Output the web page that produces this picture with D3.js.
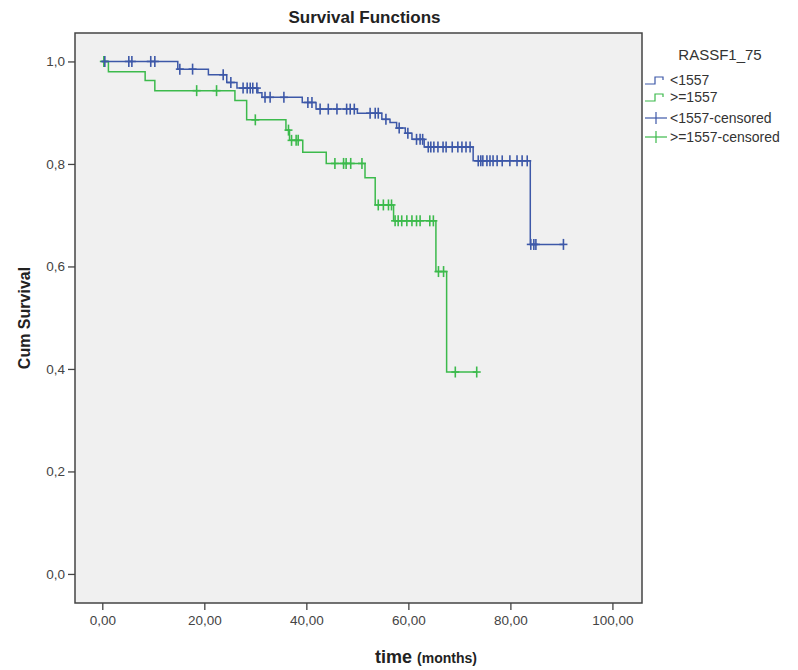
<!DOCTYPE html>
<html>
<head>
<meta charset="utf-8">
<script src="https://cdn.jsdelivr.net/npm/d3@7"></script>
<style>
  body { margin: 0; background: #fff; }
  text { font-family: Arial, "Liberation Sans", sans-serif; }
</style>
</head>
<body>
<div id="chart"></div>
<script>
// Kaplan-Meier data
// <1557 group: event times and survival after each drop
var lowEventTimes = [14.8, 20.8, 24.4, 26.4, 30.5, 31.3, 39.2, 41.9, 50.0, 54.8, 56.4, 57.7, 59.4, 60.7, 63.1, 72.7, 83.9];
var lowSurvival = [0.985, 0.974, 0.959, 0.948, 0.939, 0.930, 0.920, 0.907, 0.899, 0.887, 0.881, 0.870, 0.860, 0.848, 0.833, 0.806, 0.643];
var lowCensored = [0.5, 5.2, 5.8, 9.5, 10.3, 15.2, 17.7, 23.7, 25.2, 27.6, 28.4, 29.0, 29.5, 30.3, 31.9, 32.9,
  35.6, 40.3, 41.1, 42.7, 44.3, 46.0, 47.9, 48.6, 49.4, 52.5, 53.5, 54.1, 55.6, 58.2, 59.9, 61.6, 62.3, 62.8,
  63.9, 64.4, 65.0, 65.8, 66.8, 67.4, 68.6, 69.7, 70.5, 71.3, 72.1, 73.7, 74.2, 74.6, 75.4, 76.0, 76.6, 77.4,
  78.4, 79.9, 81.3, 82.3, 83.3, 84.0, 84.6, 85.0, 90.4];

// >=1557 group
var highEventTimes = [1.2, 8.4, 10.3, 26.0, 28.3, 36.0, 36.7, 39.3, 43.9, 51.5, 53.5, 57.1, 65.4, 67.5];
var highSurvival = [0.980, 0.963, 0.943, 0.924, 0.886, 0.866, 0.846, 0.823, 0.801, 0.773, 0.720, 0.689, 0.590, 0.394];
var highCensored = [0.3, 18.5, 22.4, 30.0, 36.5, 37.1, 38.0, 38.4, 45.6, 47.3, 47.8, 48.7, 50.9, 54.1, 55.1, 56.1,
  56.7, 57.4, 58.0, 58.7, 59.7, 60.7, 61.6, 62.3, 64.2, 64.9, 65.9, 66.9, 69.2, 73.4];

var xTicks = [0, 20, 40, 60, 80, 100];
var yTicks = [0, 0.2, 0.4, 0.6, 0.8, 1.0];
var legendLabels = ["<1557", ">=1557", "<1557-censored", ">=1557-censored"];

var blue = "#3d58a8";
var green = "#3cba4c";

var svgWidth = 798, svgHeight = 670;
var margin = { top: 33, right: 156, bottom: 67, left: 75 };
var width = svgWidth - margin.left - margin.right;
var height = svgHeight - margin.top - margin.bottom;

var svg = d3.select("#chart").append("svg")
  .attr("width", svgWidth)
  .attr("height", svgHeight);

var chartGroup = svg.append("g")
  .attr("transform", `translate(${margin.left}, ${margin.top})`);

// scales
var xScale = d3.scaleLinear().domain([-5.35, 105.8]).range([0, width]);
var yScale = d3.scaleLinear().domain([-0.0567, 1.0555]).range([height, 0]);

// plot background
chartGroup.append("rect")
  .attr("width", width)
  .attr("height", height)
  .attr("fill", "#f0f0f0");

// axes
var fmtY = d => d3.format(".1f")(d).replace(".", ",");
var fmtX = d => d3.format(".2f")(d).replace(".", ",");

var bottomAxis = d3.axisBottom(xScale).tickValues(xTicks).tickFormat(fmtX).tickSize(7).tickPadding(5);
var leftAxis = d3.axisLeft(yScale).tickValues(yTicks).tickFormat(fmtY).tickSize(7).tickPadding(3);

var xAxisG = chartGroup.append("g")
  .attr("transform", `translate(0, ${height})`)
  .call(bottomAxis);
var yAxisG = chartGroup.append("g").call(leftAxis);

[xAxisG, yAxisG].forEach(function (g) {
  g.select(".domain").remove();
  g.selectAll(".tick line").attr("stroke", "#444").attr("stroke-width", 1.3);
  g.selectAll(".tick text")
    .attr("fill", "#444")
    .style("font-size", "13.5px")
    .style("font-family", "Arial, 'Liberation Sans', sans-serif");
});

// step path builder
function stepPoints(times, surv, censored) {
  var pts = [[0, 1]];
  var s = 1;
  times.forEach(function (t, i) {
    pts.push([t, s]);
    s = surv[i];
    pts.push([t, s]);
  });
  var last = d3.max(censored.concat(times));
  pts.push([last, s]);
  return pts;
}

function survAt(times, surv, t) {
  var s = 1;
  times.forEach(function (et, i) { if (et <= t) s = surv[i]; });
  return s;
}

var line = d3.line().x(d => xScale(d[0])).y(d => yScale(d[1]));

var groups = [
  { times: lowEventTimes, surv: lowSurvival, cens: lowCensored, color: blue },
  { times: highEventTimes, surv: highSurvival, cens: highCensored, color: green }
];

// draw green first so blue sits on top like the original
groups.slice().reverse().forEach(function (g) {
  chartGroup.append("path")
    .attr("d", line(stepPoints(g.times, g.surv, g.cens)))
    .attr("fill", "none")
    .attr("stroke", g.color)
    .attr("stroke-width", 1.5);

  var marks = chartGroup.append("g");
  g.cens.forEach(function (t) {
    var cx = xScale(t), cy = yScale(survAt(g.times, g.surv, t));
    marks.append("line")
      .attr("x1", cx).attr("x2", cx)
      .attr("y1", cy - 5.5).attr("y2", cy + 5.5)
      .attr("stroke", g.color).attr("stroke-width", 1.6);
    marks.append("line")
      .attr("x1", cx - 4).attr("x2", cx + 4)
      .attr("y1", cy).attr("y2", cy)
      .attr("stroke", g.color).attr("stroke-width", 1.6);
  });
});

// frame
chartGroup.append("rect")
  .attr("width", width)
  .attr("height", height)
  .attr("fill", "none")
  .attr("stroke", "#444")
  .attr("stroke-width", 1.5);

// title
svg.append("text")
  .attr("x", margin.left + width / 2 + 6)
  .attr("y", 23)
  .attr("text-anchor", "middle")
  .style("font-size", "17px")
  .style("font-weight", "bold")
  .attr("fill", "#222")
  .text("Survival Functions");

// y axis title
svg.append("text")
  .attr("transform", "rotate(-90)")
  .attr("x", -318)
  .attr("y", 30)
  .attr("text-anchor", "middle")
  .style("font-size", "16px")
  .style("font-weight", "bold")
  .attr("fill", "#222")
  .text("Cum Survival");

// x axis title
var xt = svg.append("text")
  .attr("x", 426)
  .attr("y", 663)
  .attr("text-anchor", "middle")
  .attr("fill", "#222")
  .style("font-weight", "bold");
xt.append("tspan").style("font-size", "18px").text("time ");
xt.append("tspan").style("font-size", "14px").text("(months)");

// legend
var legend = svg.append("g");
legend.append("text")
  .attr("x", 720)
  .attr("y", 60)
  .attr("text-anchor", "middle")
  .style("font-size", "15px")
  .attr("fill", "#333")
  .text("RASSF1_75");

var legendY = [80, 97, 118, 137];
var legendColors = [blue, green, blue, green];
legendLabels.forEach(function (lab, i) {
  var cy = legendY[i];
  if (i < 2) {
    legend.append("path")
      .attr("d", `M645,${cy + 4}H655V${cy - 3}H663V${cy}`)
      .attr("fill", "none")
      .attr("stroke", legendColors[i])
      .attr("stroke-width", 1.2);
  } else {
    legend.append("line")
      .attr("x1", 645).attr("x2", 667)
      .attr("y1", cy).attr("y2", cy)
      .attr("stroke", legendColors[i]).attr("stroke-width", 1.2);
    legend.append("line")
      .attr("x1", 656).attr("x2", 656)
      .attr("y1", cy - 6).attr("y2", cy + 6)
      .attr("stroke", legendColors[i]).attr("stroke-width", 1.2);
  }
  legend.append("text")
    .attr("x", 670)
    .attr("y", cy + 5)
    .style("font-size", "14px")
    .attr("fill", "#333")
    .text(lab);
});
</script>
</body>
</html>
